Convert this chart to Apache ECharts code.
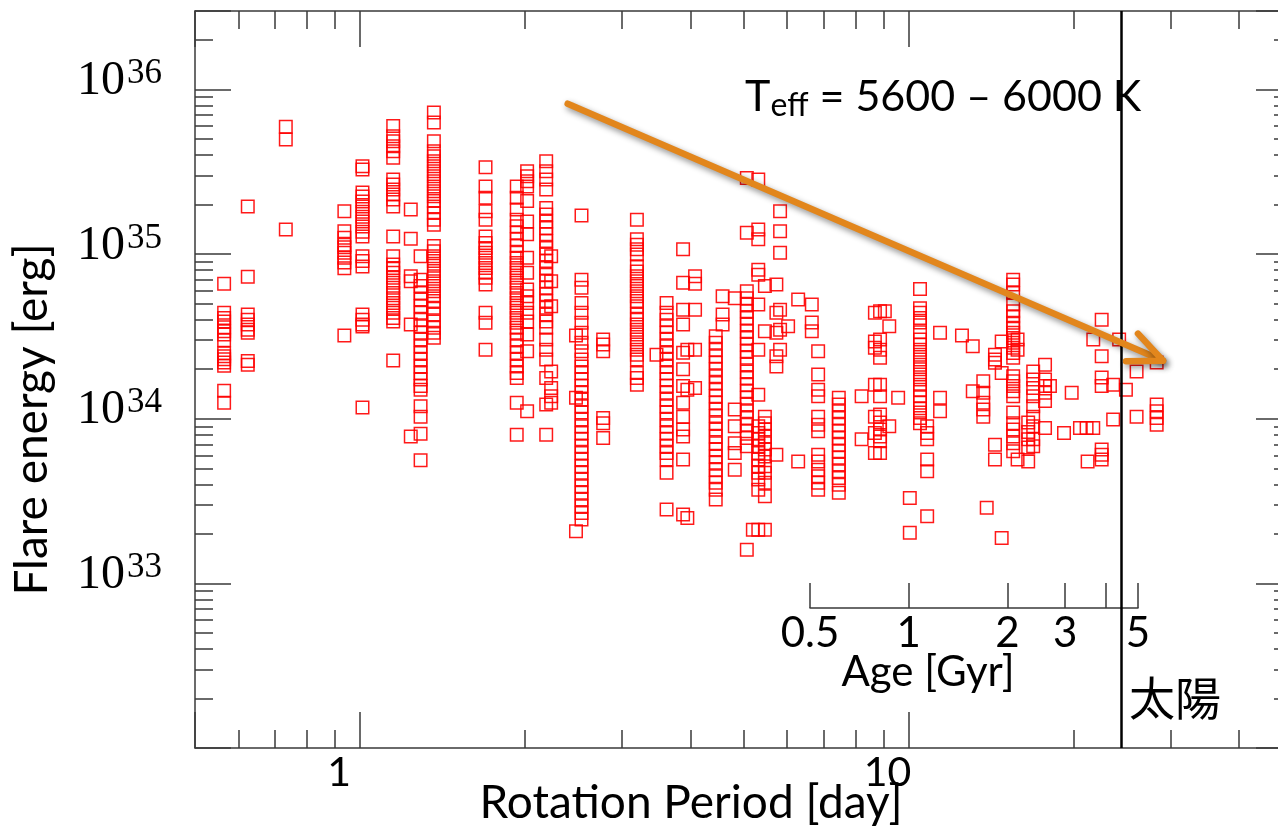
<!DOCTYPE html>
<html><head><meta charset="utf-8">
<script src="https://cdn.jsdelivr.net/npm/echarts@6/dist/echarts.min.js"></script>
<style>html,body{margin:0;padding:0;background:#fff}#c{width:1278px;height:837px}</style>
</head><body><div id="c"></div>
<script>
// Rotation period of each star [day]
const starPeriods = [0.565,0.624,0.732,0.936,1.01,1.149,1.237,1.289,1.363,1.693,1.93,2.016,2.184,2.23,2.533,2.475,2.774,3.196,3.47,3.62,3.88,3.95,4.08,4.45,4.58,4.82,5.07,5.32,5.47,5.2,5.74,5.83,6.03,6.29,6.66,6.84,7.46,8.21,8.68,8.87,9.05,9.22,9.57,10.05,10.49,10.81,11.41,12.51,13.09,13.68,13.88,14.37,14.78,15.51,15.8,16.52,16.87,17.73,18.1,19.2,19.83,20.53,21.11,21.2,21.71,22.49,23.6,24.2,24.9,26.04,28.33];
// Flare energies of each star [erg]
const starFlareEnergies = [
[6.6e34,4.4e34,4.1e34,3.9e34,3.6e34,3.4e34,3.25e34,3.0e34,2.5e34,2.4e34,2.3e34,2.2e34,2.1e34,1.48e34,1.25e34],
[1.95e35,7.3e34,4.3e34,4.0e34,3.74e34,3.47e34,3.33e34,2.24e34,2.13e34],
[5.95e35,4.97e35,1.41e35],
[1.82e35,1.38e35,1.26e35,1.14e35,1.1e35,1.02e35,9.5e34,8.9e34,8.2e34,3.2e34],
[3.42e35,3.27e35,2.37e35,2.24e35,2.09e35,1.95e35,1.81e35,1.69e35,1.58e35,1.47e35,1.37e35,1.28e35,9.7e34,9.1e34,8.4e34,4.3e34,4.0e34,3.74e34,3.63e34,1.17e34],
[6.0e35,5.2e35,4.85e35,4.52e35,4.22e35,3.85e35,2.84e35,2.65e35,2.47e35,2.3e35,2.15e35,1.95e35,1.28e35,9.7e34,8.65e34,8.25e34,7.7e34,7.2e34,6.7e34,6.25e34,5.8e34,5.4e34,5.05e34,4.72e34,4.4e34,4.1e34,3.9e34,2.26e34],
[1.87e35,1.24e35,7.35e34,6.85e34,3.74e34,7.8e33],
[9.7e34,7.0e34,6.4e34,5.8e34,5.3e34,4.82e34,4.4e34,4.0e34,3.65e34,3.33e34,3.03e34,2.76e34,2.51e34,2.29e34,2.08e34,1.9e34,1.73e34,1.58e34,1.5e34,1.19e34,1.03e34,8.1e33,5.6e33],
[7.25e35,6.3e35,4.85e35,4.22e35,3.93e35,3.67e35,3.42e35,3.19e35,2.97e35,2.77e35,2.58e35,2.41e35,2.25e35,2.1e35,1.95e35,1.78e35,1.62e35,1.51e35,1.12e35,1.04e35,9.7e34,9.1e34,8.5e34,7.9e34,7.35e34,6.85e34,6.4e34,5.95e34,5.55e34,5.2e34,4.72e34,4.3e34,3.9e34,3.57e34,3.33e34,3.11e34],
[3.37e35,2.58e35,2.2e35,1.82e35,1.62e35,1.28e35,1.17e35,1.09e35,1.02e35,9.5e34,8.85e34,8.25e34,7.7e34,7.2e34,6.55e34,4.4e34,3.83e34,2.63e34],
[2.58e35,2.2e35,1.87e35,1.62e35,1.48e35,1.35e35,1.23e35,1.12e35,1.02e35,9.5e34,8.85e34,8.25e34,7.7e34,7.2e34,6.7e34,6.25e34,5.8e34,5.4e34,5.05e34,4.72e34,4.4e34,4.1e34,3.83e34,3.57e34,3.33e34,3.03e34,2.76e34,2.51e34,2.29e34,2.08e34,1.9e34,1.77e34,1.25e34,8.0e33],
[3.19e35,2.97e35,2.77e35,2.58e35,2.1e35,1.58e35,1.32e35,9.5e34,7.7e34,6.1e34,5.55e34,5.05e34,4.4e34,3.9e34,3.25e34,2.57e34,1.11e34],
[3.67e35,3.19e35,2.84e35,2.47e35,1.91e35,1.74e35,1.58e35,1.44e35,1.32e35,1.2e35,1.09e35,9.95e34,9.1e34,8.25e34,7.5e34,6.85e34,6.25e34,5.7e34,5.2e34,4.72e34,4.3e34,3.9e34,3.57e34,3.03e34,2.63e34,2.29e34,1.77e34,1.22e34,8.0e33],
[9.7e34,6.85e34,4.82e34,1.94e34,1.54e34,1.37e34,1.25e34],
[1.72e35,7.0e34,6.25e34,5.05e34,4.4e34,3.83e34,3.33e34,2.9e34,2.57e34,2.29e34,2.08e34,1.9e34,1.73e34,1.58e34,1.44e34,1.31e34,1.19e34,1.09e34,9.9e33,9.0e33,8.2e33,7.5e33,6.8e33,6.2e33,5.65e33,5.15e33,4.7e33,4.27e33,3.89e33,3.55e33,3.23e33,2.94e33,2.68e33,2.44e33],
[3.2e34,1.34e34,2.07e33],
[3.03e34,2.83e34,2.57e34,1.01e34,9.4e33,7.65e33],
[1.62e35,1.23e35,1.14e35,1.07e35,9.95e34,8.45e34,7.85e34,7.35e34,6.85e34,6.4e34,5.95e34,5.55e34,5.2e34,4.82e34,4.3e34,4.0e34,3.74e34,3.47e34,3.25e34,3.03e34,2.83e34,2.63e34,2.45e34,2.29e34,1.9e34,1.77e34,1.61e34],
[2.45e34],
[5.05e34,4.4e34,4.0e34,3.65e34,3.33e34,3.03e34,2.76e34,2.51e34,2.29e34,2.08e34,1.9e34,1.73e34,1.58e34,1.44e34,1.31e34,1.19e34,1.09e34,9.9e33,9.0e33,8.2e33,7.5e33,6.8e33,6.2e33,5.65e33,4.7e33,2.81e33],
[1.07e35,6.7e34,4.6e34,3.74e34,2.52e34,2.0e34,1.58e34,1.25e34,1.03e34,8.6e33,7.8e33,5.65e33,2.62e33],
[2.63e34,1.5e34,2.5e33],
[7.35e34,6.6e34,4.6e34,2.63e34,1.54e34],
[3.17e34,2.9e34,2.63e34,2.4e34,2.19e34,2.0e34,1.81e34,1.65e34,1.5e34,1.37e34,1.25e34,1.14e34,1.04e34,9.4e33,8.6e33,7.8e33,7.1e33,6.5e33,5.9e33,5.4e33,4.9e33,4.47e33,4.08e33,3.71e33,3.23e33],
[5.55e34,4.3e34,3.74e34],
[5.4e34,1.14e34,9.0e33,7.1e33,6.2e33,4.9e33],
[2.9e35,1.35e35,5.95e34,5.4e34,4.94e34,4.5e34,4.1e34,3.74e34,3.4e34,3.1e34,2.83e34,2.57e34,2.35e34,2.14e34,1.94e34,1.77e34,1.61e34,1.47e34,1.34e34,1.22e34,1.11e34,1.01e34,9.2e33,8.4e33,7.65e33,6.8e33,1.6e33],
[2.84e35,1.41e35,1.23e35,8.05e34,7.5e34,4.94e34,2.63e34,1.4e34,9.0e33,8.2e33,7.5e33,6.8e33,6.2e33,5.65e33,5.15e33,4.7e33,4.27e33,3.71e33,2.12e33],
[6.4e34,3.4e34,1.03e34,9.4e33,8.6e33,7.8e33,7.1e33,6.5e33,5.9e33,5.15e33,4.7e33,4.08e33,3.38e33,2.12e33],
[2.12e33],
[6.55e34,4.4e34,3.33e34,2.4e34,2.08e34,6.05e33],
[1.82e35,1.38e35,1.02e35,4.6e34,3.47e34,2.63e34],
[3.65e34],
[5.3e34,5.5e33],
[4.94e34,3.84e34,3.4e34],
[2.57e34,1.86e34,1.5e34,1.37e34,1.03e34,9.2e33,8.4e33,6.05e33,5.5e33,4.9e33,4.47e33,4.08e33,3.71e33],
[1.34e34,1.22e34,1.11e34,1.01e34,9.2e33,8.4e33,7.65e33,6.95e33,6.35e33,5.8e33,5.27e33,4.8e33,4.37e33,3.98e33,3.55e33],
[1.37e34,7.5e33],
[4.4e34,2.95e34,2.7e34,1.61e34,1.03e34,8.2e33,6.2e33],
[4.5e34,3.03e34,2.63e34,2.35e34,1.61e34,1.37e34,1.06e34,9.5e33,8.6e33,7.8e33,7.3e33,6.2e33],
[4.5e34],
[3.65e34,9.0e33],
[1.34e34],
[3.3e33,2.03e33],
[6.15e34,4.7e34,4.4e34,4.1e34,3.84e34,3.35e34,3.03e34,2.83e34,2.63e34,2.45e34,2.29e34,2.13e34,2.0e34,1.86e34,1.73e34,1.61e34,1.5e34,1.37e34,1.25e34,1.16e34,1.09e34,1.01e34,9.4e33],
[9.0e33,8.2e33,7.5e33,5.65e33,4.8e33,2.56e33],
[3.33e34,1.34e34,1.11e34],
[3.2e34],
[2.76e34,1.47e34],
[1.69e34,1.44e34,1.25e34,1.14e34,1.03e34],
[2.88e33],
[2.45e34,2.29e34,2.19e34,6.95e33,5.65e33],
[2.95e34,1.9e34,1.89e33],
[7.0e34,6.55e34,5.8e34,4.94e34,4.5e34,4.2e34,3.83e34,3.57e34,3.33e34,3.1e34,2.9e34,2.7e34,2.51e34,2.35e34,1.81e34,1.69e34,1.58e34,1.47e34,1.37e34,1.09e34,9.4e33,8.6e33,7.8e33,7.1e33,6.35e33],
[3.03e34,2.63e34,5.65e33],
[9.5e33,8.3e33,7.5e33,6.7e33,5.5e33],
[1.94e34,1.73e34,1.54e34,1.37e34,1.19e34,1.03e34,9.0e33,7.5e33,6.8e33],
[2.13e34,1.73e34,1.58e34,1.44e34,1.28e34,8.8e33],
[1.58e34],
[8.2e33],
[1.44e34],
[8.8e33],
[8.8e33],
[5.5e33],
[3.03e34,8.8e33],
[4.0e34,2.4e34,1.78e34,1.58e34,6.5e33,6.05e33,5.65e33],
[1.61e34,9.9e33],
[3.03e34],
[1.5e34],
[1.94e34,1.03e34],
[2.2e34,1.22e34,1.11e34,1.01e34,9.2e33]
];
// Axis ticks and labels
const periodTickValues = [1, 10];
const energyTickValues = [1e33, 1e34, 1e35, 1e36];
const ageTickValues = [0.5, 1, 2, 3, 4, 5];
const ageLabelValues = [0.5, 1, 2, 3, 5];
// Annotations
const sunPeriod = 24.4;
const arrowStart = [2.39, 8.2e35];
const arrowEnd = [29.1, 2.25e34];

const scatterData = [];
starPeriods.forEach((p, i) => starFlareEnergies[i].forEach(e => scatterData.push([p, e])));

const AX = '#3a3a3a';
const FONT = 'Lato';
const chart = echarts.init(document.getElementById('c'), null, {renderer: 'canvas'});

const xCommon = {
  type: 'log', min: 0.5, max: 50, gridIndex: 0,
  axisLine: {lineStyle: {color: AX, width: 1.5}},
  axisTick: {inside: true, length: 36, lineStyle: {color: AX, width: 1.5}},
  minorTick: {show: true, splitNumber: 9, length: 18, lineStyle: {color: AX, width: 1.5}},
  splitLine: {show: false}, minorSplitLine: {show: false}
};
const yCommon = {
  type: 'log', min: 1e32, max: 3e36, gridIndex: 0,
  axisLine: {lineStyle: {color: AX, width: 1.5}},
  axisTick: {inside: true, length: 36, lineStyle: {color: AX, width: 1.5}},
  minorTick: {show: true, splitNumber: 9, length: 18, lineStyle: {color: AX, width: 1.5}},
  splitLine: {show: false}, minorSplitLine: {show: false}
};

chart.setOption({
  animation: false,
  backgroundColor: '#ffffff',
  textStyle: {fontFamily: FONT},
  grid: [
    {left: 195, top: 11, width: 1097, height: 737, containLabel: false, outerBoundsMode: 'none'},
    {left: 810, top: 588, width: 328, height: 20, containLabel: false, outerBoundsMode: 'none'}
  ],
  xAxis: [
    Object.assign({}, xCommon, {
      position: 'bottom',
      name: 'Rotation Period [day]', nameLocation: 'middle', nameGap: 32, nameMoveOverlap: false,
      nameTextStyle: {fontFamily: FONT, fontSize: 46, color: '#000', lineHeight: 46, padding: [0, 105, 0, 0]},
      axisLabel: {customValues: periodTickValues, fontFamily: FONT, fontSize: 41, lineHeight: 41, color: '#000', margin: 4, padding: [0, 42, 0, 0]}
    }),
    Object.assign({}, xCommon, {position: 'top', axisLabel: {show: false}}),
    {
      type: 'log', min: 0.5, max: 5, gridIndex: 1, position: 'bottom',
      name: 'Age [Gyr]', nameLocation: 'middle', nameGap: 43, nameMoveOverlap: false,
      nameTextStyle: {fontFamily: FONT, fontSize: 42, color: '#000', lineHeight: 42, padding: [0, 92, 0, 0]},
      axisLine: {lineStyle: {color: AX, width: 1.5}},
      axisTick: {inside: true, length: 25, customValues: ageTickValues, lineStyle: {color: AX, width: 1.5}},
      axisLabel: {customValues: ageLabelValues, fontFamily: FONT, fontSize: 42, lineHeight: 42, color: '#000', margin: 4},
      splitLine: {show: false}
    }
  ],
  yAxis: [
    Object.assign({}, yCommon, {
      position: 'left',
      name: 'Flare energy [erg]', nameLocation: 'middle', nameGap: 140, nameMoveOverlap: false,
      nameTextStyle: {fontFamily: FONT, fontSize: 46, color: '#000', lineHeight: 46, padding: [0, 80, 0, 0]},
      axisLabel: {
        customValues: energyTickValues, margin: 33, padding: [0, 0, 16, 0],
        formatter: v => '{b|10}{s|' + Math.round(Math.log10(v)) + '}',
        rich: {
          b: {fontFamily: 'Liberation Serif', fontSize: 48, lineHeight: 50, color: '#000'},
          s: {fontFamily: 'Liberation Serif', fontSize: 35, lineHeight: 31, verticalAlign: 'top', color: '#000', padding: [0, 0, 0, 2]}
        }
      }
    }),
    Object.assign({}, yCommon, {position: 'right', axisLabel: {show: false}}),
    {type: 'value', gridIndex: 1, show: false, min: 0, max: 1}
  ],
  series: [
    {
      type: 'scatter', xAxisIndex: 0, yAxisIndex: 0,
      data: scatterData, symbol: 'rect', symbolSize: 12.5, progressive: 0,
      itemStyle: {color: 'rgba(0,0,0,0)', borderColor: '#ff0000', borderWidth: 1.5, opacity: 0.9},
      emphasis: {disabled: true}, silent: true,
      markLine: {
        silent: true, symbol: ['none', 'none'], label: {show: false},
        lineStyle: {color: '#000', width: 2.5, type: 'solid'},
        data: [{xAxis: sunPeriod}]
      }
    },
    {
      type: 'custom', xAxisIndex: 0, yAxisIndex: 0, silent: true, clip: false, z: 5,
      data: [[arrowStart[0], arrowStart[1], arrowEnd[0], arrowEnd[1]]],
      encode: {x: [0, 2], y: [1, 3]},
      renderItem: function (params, api) {
        const p0 = api.coord([api.value(0), api.value(1)]);
        const p1 = api.coord([api.value(2), api.value(3)]);
        const ang = Math.atan2(p0[1] - p1[1], p0[0] - p1[0]);
        const L = 37, sp = 24 * Math.PI / 180;
        const b1 = [p1[0] + L * Math.cos(ang - sp), p1[1] + L * Math.sin(ang - sp)];
        const b2 = [p1[0] + L * Math.cos(ang + sp), p1[1] + L * Math.sin(ang + sp)];
        const st = {stroke: '#E2861C', lineWidth: 6.5, fill: null, lineCap: 'round', lineJoin: 'round',
          shadowBlur: 6, shadowColor: 'rgba(0,0,0,0.45)', shadowOffsetX: 2, shadowOffsetY: 3};
        return {type: 'group', children: [
          {type: 'line', shape: {x1: p0[0], y1: p0[1], x2: p1[0], y2: p1[1]}, style: st},
          {type: 'polyline', shape: {points: [b1, p1, b2]}, style: st}
        ]};
      }
    }
  ],
  graphic: [
    {
      type: 'text', x: 745, y: 72, silent: true,
      style: {
        text: '{t|T}{sub|eff}{t| = 5600 – 6000 K}', verticalAlign: 'top', align: 'left',
        rich: {
          t: {fontFamily: FONT, fontSize: 43, lineHeight: 50, fill: '#000', verticalAlign: 'middle'},
          sub: {fontFamily: FONT, fontSize: 32, lineHeight: 30, fill: '#000', verticalAlign: 'bottom'}
        }
      }
    },
    {
      type: 'text', x: 1129, y: 698, silent: true,
      style: {text: '太陽', fontFamily: 'Noto Sans CJK JP', fontSize: 46, fill: '#000', verticalAlign: 'middle', align: 'left'}
    }
  ]
});
</script></body></html>
